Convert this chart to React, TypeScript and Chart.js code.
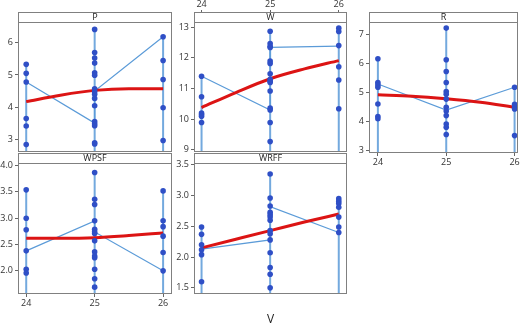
import React, { useEffect, useRef } from 'react';
import { Chart, registerables } from 'chart.js';

Chart.register(...registerables);

// ---- data ----
const V = [24, 25, 26];
const linkX = [24, 25, 25, 26];
const fitX = [24, 24.5, 25, 25.5, 26];

const p24 = [5.33, 5.05, 4.78, 3.64, 3.41, 2.83];
const p25 = [6.42, 5.7, 5.53, 5.37, 5.07, 4.99, 4.57, 4.48, 4.4, 4.27, 4.04, 3.55, 3.48, 3.42, 2.89, 2.85];
const p26 = [6.19, 5.45, 4.86, 3.98, 2.96];
const pLink = [4.78, 3.5, 4.5, 6.19];
const pFit = [4.17, 4.37, 4.52, 4.57, 4.57];
const pTicks = [3, 4, 5, 6];

const w24 = [11.4, 10.73, 10.2, 10.15, 10.1, 9.89];
const w25 = [12.87, 12.47, 12.38, 12.34, 11.9, 11.82, 11.48, 11.3, 11.24, 11.2, 10.92, 10.36, 10.3, 9.89, 9.27];
const w26 = [12.97, 12.86, 12.4, 11.71, 11.28, 10.34];
const wLink = [11.4, 10.3, 12.34, 12.38];
const wFit = [10.38, 10.87, 11.32, 11.64, 11.91];
const wTicks = [9, 10, 11, 12, 13];

const r24 = [6.17, 5.35, 5.27, 5.19, 4.61, 4.18, 4.1];
const r25 = [7.23, 6.14, 5.73, 5.35, 5.04, 4.95, 4.78, 4.5, 4.37, 4.21, 3.92, 3.81, 3.56];
const r26 = [5.19, 4.6, 4.52, 4.44, 3.52];
const rLink = [5.3, 4.4, 4.4, 5.19];
const rFit = [4.93, 4.88, 4.79, 4.67, 4.5];
const rTicks = [3, 4, 5, 6, 7];

const s24 = [3.54, 3.0, 2.78, 2.38, 2.03, 1.96];
const s25 = [3.87, 3.36, 3.26, 2.95, 2.79, 2.74, 2.71, 2.57, 2.36, 2.28, 2.25, 2.03, 1.85, 1.69];
const s26 = [3.52, 2.95, 2.84, 2.66, 2.35, 2.0];
const sLink = [2.38, 2.95, 2.74, 2.0];
const sFit = [2.62, 2.62, 2.63, 2.67, 2.72];
const sTicks = [2.0, 2.5, 3.0, 3.5, 4.0];

const f24 = [2.49, 2.37, 2.2, 2.12, 2.04, 1.6];
const f25 = [3.35, 2.96, 2.83, 2.73, 2.69, 2.65, 2.6, 2.43, 2.38, 2.28, 2.07, 1.83, 1.72, 1.5];
const f26 = [2.95, 2.91, 2.87, 2.81, 2.65, 2.49, 2.4];
const fLink = [2.13, 2.28, 2.82, 2.4];
const fFit = [2.15, 2.29, 2.43, 2.57, 2.7];
const fTicks = [1.5, 2.0, 2.5, 3.0, 3.5];

const xAxisTitle = 'V';

// ---- layout / style ----
const W = 525;
const H = 325;
const FONT = '"Open Sans", "DejaVu Sans", sans-serif';
const Y_AXIS_W = 18;
const HEADER_H = 10;
const TOP_AXIS_H = 12;
const BOTTOM_AXIS_H = 15;

type Panel = {
  name: string;
  cols: number[][];
  link: number[];
  fit: number[];
  yTicks: number[];
  dec: number;
  yMin: number;
  yMax: number;
  xMin: number;
  xMax: number;
  left: number;
  right: number;
  top: number;
  bottom: number;
  xMode: 'none' | 'top' | 'bottom' | 'title';
};

const panels: Panel[] = [
  { name: 'P', cols: [p24, p25, p26], link: pLink, fit: pFit, yTicks: pTicks, dec: 0,
    yMin: 2.6, yMax: 6.65, xMin: 23.88, xMax: 26.13, left: 18, right: 172, top: 22, bottom: 152, xMode: 'none' },
  { name: 'W', cols: [w24, w25, w26], link: wLink, fit: wFit, yTicks: wTicks, dec: 0,
    yMin: 8.93, yMax: 13.17, xMin: 23.89, xMax: 26.12, left: 194, right: 347, top: 22, bottom: 152, xMode: 'top' },
  { name: 'R', cols: [r24, r25, r26], link: rLink, fit: rFit, yTicks: rTicks, dec: 0,
    yMin: 2.92, yMax: 7.44, xMin: 23.87, xMax: 26.05, left: 369, right: 518, top: 22, bottom: 153, xMode: 'bottom' },
  { name: 'WPSF', cols: [s24, s25, s26], link: sLink, fit: sFit, yTicks: sTicks, dec: 1,
    yMin: 1.56, yMax: 4.05, xMin: 23.88, xMax: 26.13, left: 18, right: 172, top: 163, bottom: 294, xMode: 'bottom' },
  { name: 'WRFF', cols: [f24, f25, f26], link: fLink, fit: fFit, yTicks: fTicks, dec: 1,
    yMin: 1.4, yMax: 3.53, xMin: 23.89, xMax: 26.12, left: 194, right: 347, top: 163, bottom: 294, xMode: 'title' },
];

function buildConfig(p: Panel): any {
  const points: { x: number; y: number }[] = [];
  p.cols.forEach((vals, i) => vals.forEach((v) => points.push({ x: V[i], y: v })));
  const linkData = linkX.map((x, i) => ({ x, y: p.link[i] }));
  const fitData = fitX.map((x, i) => ({ x, y: p.fit[i] }));

  const padTop = p.top - HEADER_H - (p.xMode === 'top' ? TOP_AXIS_H : 0);
  let padBottom = H - p.bottom;
  let xAxisH = 0;
  if (p.xMode === 'bottom') {
    xAxisH = BOTTOM_AXIS_H;
    padBottom = H - p.bottom - BOTTOM_AXIS_H;
  } else if (p.xMode === 'title') {
    xAxisH = H - p.bottom;
    padBottom = 0;
  } else if (p.xMode === 'top') {
    xAxisH = TOP_AXIS_H;
  }

  const framePlugin = {
    id: 'frame' + p.name,
    beforeDatasetsDraw(chart: any) {
      const { ctx, chartArea: a, scales } = chart;
      ctx.save();
      ctx.strokeStyle = '#73a9de';
      ctx.lineWidth = 2;
      p.cols.forEach((vals, i) => {
        const px = scales.x.getPixelForValue(V[i]);
        const py = scales.y.getPixelForValue(Math.max(...vals));
        ctx.beginPath();
        ctx.moveTo(px, a.bottom);
        ctx.lineTo(px, py);
        ctx.stroke();
      });
      ctx.restore();
    },
    afterDraw(chart: any) {
      const { ctx, chartArea: a } = chart;
      const l = Math.round(a.left) + 0.5;
      const r = Math.round(a.right) - 0.5;
      const t = Math.round(a.top) + 0.5;
      const b = Math.round(a.bottom) - 0.5;
      const ht = t - HEADER_H;
      ctx.save();
      ctx.strokeStyle = '#808080';
      ctx.lineWidth = 1;
      ctx.strokeRect(l, ht, r - l, b - ht);
      ctx.beginPath();
      ctx.moveTo(l, t);
      ctx.lineTo(r, t);
      ctx.stroke();
      ctx.restore();
    },
  };

  const isTop = p.xMode === 'top';
  const xScale: any = {
    type: 'linear',
    min: p.xMin,
    max: p.xMax,
    position: isTop ? 'top' : 'bottom',
    weight: 5000,
    display: p.xMode !== 'none',
    afterBuildTicks: (s: any) => {
      s.ticks = V.map((value) => ({ value }));
    },
    afterFit: (s: any) => {
      s.height = xAxisH;
    },
    ticks: {
      display: isTop || p.xMode === 'bottom',
      autoSkip: false,
      maxRotation: 0,
      padding: isTop ? 0 : 1,
      color: '#333',
      font: { family: FONT, size: 9 },
      callback: (v: any) => String(v),
    },
    grid: {
      display: isTop || p.xMode === 'bottom',
      drawOnChartArea: false,
      tickLength: isTop ? 2 : 3,
      color: '#666',
      tickColor: '#666',
    },
    border: { display: false },
    title: {
      display: p.xMode === 'title',
      text: xAxisTitle,
      color: '#222',
      padding: { top: 0, bottom: 0 },
      font: { family: FONT, size: 12, lineHeight: 10 / 12 },
    },
  };

  return {
    type: 'scatter',
    data: {
      datasets: [
        {
          data: points,
          pointRadius: 2.8,
          pointBackgroundColor: '#2f4fc6',
          pointBorderWidth: 0,
          showLine: false,
        },
        {
          data: fitData,
          showLine: true,
          pointRadius: 0,
          borderColor: '#dc1414',
          borderWidth: 3,
          cubicInterpolationMode: 'monotone',
          fill: false,
        },
        {
          data: linkData,
          showLine: true,
          pointRadius: 0,
          borderColor: '#5b9bd8',
          borderWidth: 1.2,
          tension: 0,
          fill: false,
        },
      ],
    },
    options: {
      animation: false,
      responsive: false,
      maintainAspectRatio: false,
      events: [],
      layout: {
        padding: {
          left: p.left - Y_AXIS_W,
          right: W - p.right,
          top: padTop,
          bottom: padBottom,
        },
      },
      plugins: {
        legend: { display: false },
        tooltip: { enabled: false },
        title: {
          display: true,
          text: p.name,
          fullSize: false,
          padding: 0,
          color: '#222',
          font: { family: FONT, size: 9, weight: 'normal', lineHeight: HEADER_H / 9 },
        },
      },
      scales: {
        x: xScale,
        y: {
          type: 'linear',
          min: p.yMin,
          max: p.yMax,
          position: 'left',
          afterBuildTicks: (s: any) => {
            s.ticks = p.yTicks.map((value) => ({ value }));
          },
          afterFit: (s: any) => {
            s.width = Y_AXIS_W;
          },
          ticks: {
            autoSkip: false,
            padding: 2,
            color: '#333',
            font: { family: FONT, size: 9 },
            callback: (v: any) => Number(v).toFixed(p.dec),
          },
          grid: {
            drawOnChartArea: false,
            tickLength: 3,
            color: '#666',
            tickColor: '#666',
          },
          border: { display: false },
        },
      },
    },
    plugins: [framePlugin],
  };
}

function PanelChart({ panel }: { panel: Panel }) {
  const ref = useRef<HTMLCanvasElement | null>(null);
  useEffect(() => {
    if (!ref.current) return;
    const chart = new Chart(ref.current, buildConfig(panel));
    return () => chart.destroy();
  }, [panel]);
  return (
    <canvas
      ref={ref}
      width={W}
      height={H}
      style={{ position: 'absolute', left: 0, top: 0, width: W, height: H }}
    />
  );
}

export default function App() {
  return (
    <div
      style={{
        position: 'fixed',
        left: 0,
        top: 0,
        width: W,
        height: H,
        background: '#ffffff',
        overflow: 'hidden',
      }}
    >
      {panels.map((p) => (
        <PanelChart key={p.name} panel={p} />
      ))}
    </div>
  );
}
